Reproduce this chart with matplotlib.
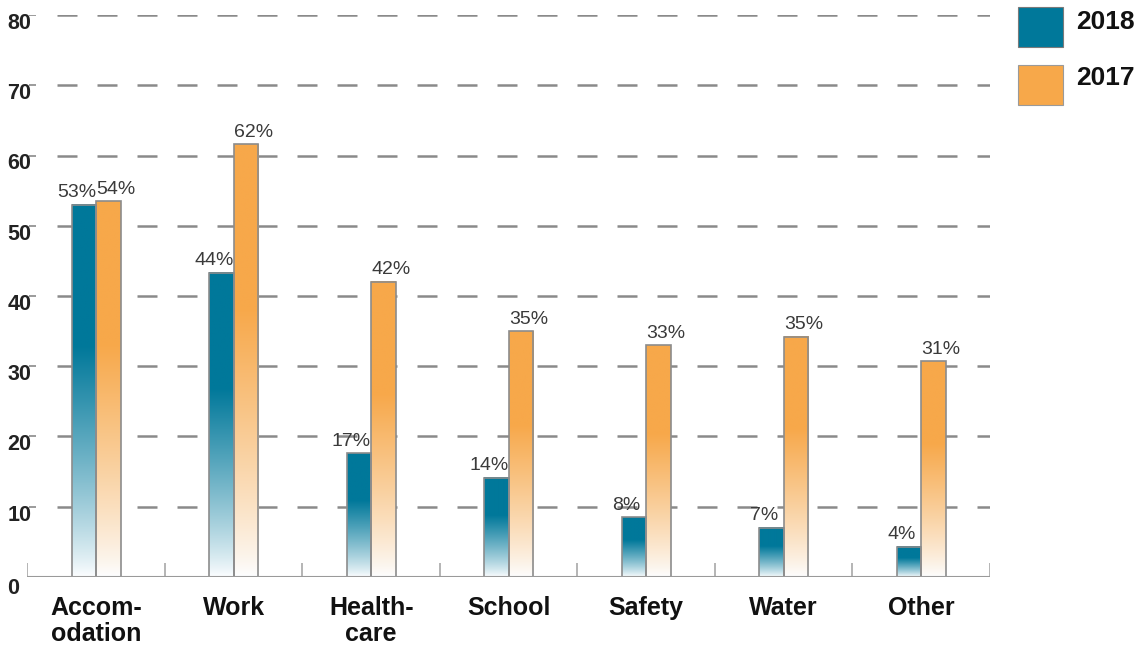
import numpy as np
import matplotlib
matplotlib.use("Agg")
import matplotlib.pyplot as plt
from matplotlib.colors import to_rgb
from matplotlib.patches import Rectangle

categories = ["Accom-\nodation", "Work", "Health-\ncare", "School", "Safety", "Water", "Other"]
vals_2018 = [53, 43.3, 17.6, 14.1, 8.5, 7.0, 4.3]
vals_2017 = [53.5, 61.6, 42, 35, 33, 34.2, 30.7]
labels_2018 = ["53%", "44%", "17%", "14%", "8%", "7%", "4%"]
labels_2017 = ["54%", "62%", "42%", "35%", "33%", "35%", "31%"]
yticks = [0, 10, 20, 30, 40, 50, 60, 70, 80]

teal = "#00789a"
orange = "#f7a84a"

plt.rcParams['lines.scale_dashes'] = False
fig = plt.figure(figsize=(11.45, 6.47), dpi=100)
ax = fig.add_axes([0.024, 0.1082, 0.8406, 0.8686])

x = np.arange(len(categories))
w = 0.178


def grad_bar(x0, h, color):
    # solid at the top, fading to white over the lower part of the bar
    n = 200
    t = np.linspace(0, 1, n)
    k = np.clip(t / 0.62, 0, 1) ** 0.85
    c = np.array(to_rgb(color))
    rgb = (1 - k)[:, None] * np.array([0.99, 0.995, 1.0]) + k[:, None] * c
    img = rgb[:, None, :]
    ax.imshow(img, extent=(x0, x0 + w, 0, h), origin='lower', aspect='auto',
              zorder=2, interpolation='bilinear')


for i in range(len(categories)):
    grad_bar(x[i] - w, vals_2018[i], teal)
    grad_bar(x[i], vals_2017[i], orange)

ax.bar(x - w / 2, vals_2018, w, fill=False, edgecolor='#8c8c8c', lw=1.2, zorder=3)
ax.bar(x + w / 2, vals_2017, w, fill=False, edgecolor='#8c8c8c', lw=1.2, zorder=3)

# dashed grid
ax.hlines(yticks[1:], -0.5 + 29.5 / 137.5, 6.5, colors='#8a8a8a', lw=1.8,
          linestyles=[(0, (14.4, 14.4))], zorder=1)
# short tick marks
ax.hlines(yticks[1:], -0.5 + 2 / 137.5, -0.5 + 9 / 137.5, colors='#8a8a8a', lw=1.2, zorder=1)
# baseline and separators
ax.hlines(0, -0.5, 6.5, colors='#9a9a9a', lw=1.5, zorder=4)
ax.vlines(np.arange(-0.5, 7), 0, 2, colors='#a8a8a8', lw=1.2, zorder=1)

pct_font = ['Liberation Sans Narrow', 'Liberation Sans', 'DejaVu Sans']
for i in range(len(categories)):
    ax.text(x[i] - w / 2 - 0.055, vals_2018[i] + 0.5, labels_2018[i], ha='center', va='bottom',
            fontsize=14, color='#3a3a3a', family=pct_font, zorder=5)
    ax.text(x[i] + w / 2 + 0.055, vals_2017[i] + 0.5, labels_2017[i], ha='center', va='bottom',
            fontsize=14, color='#3a3a3a', family=pct_font, zorder=5)
    ax.text(x[i], -2.7, categories[i], ha='center', va='top', fontsize=18,
            fontweight='bold', color='#111111', family='Liberation Sans',
            linespacing=1.1)

for yv in yticks:
    off = 1.6 if yv == 0 else 1.2
    ax.text(-0.5 - 20 / 137.5, yv - off, str(yv), ha='left', va='center',
            fontsize=15.5, fontweight='bold', color='#222222', family='Liberation Sans')

ax.set_xlim(-0.5, 6.5)
ax.set_ylim(0, 80)
ax.axis('off')

# legend
H = 647.0
W = 1145.0
fig.patches.append(Rectangle((1018 / W, 1 - 47 / H), 45 / W, 40 / H, transform=fig.transFigure,
                             facecolor=teal, edgecolor='#7a7a7a', lw=0.8))
fig.patches.append(Rectangle((1018 / W, 1 - 105 / H), 45 / W, 40 / H, transform=fig.transFigure,
                             facecolor=orange, edgecolor='#9a9a9a', lw=0.8))
fig.text(1076 / W, 1 - 22 / H, "2018", ha='left', va='center', fontsize=19,
         fontweight='bold', color='#111111', family='Liberation Sans')
fig.text(1076 / W, 1 - 78 / H, "2017", ha='left', va='center', fontsize=19,
         fontweight='bold', color='#111111', family='Liberation Sans')

fig.savefig("out.png", dpi=100)
